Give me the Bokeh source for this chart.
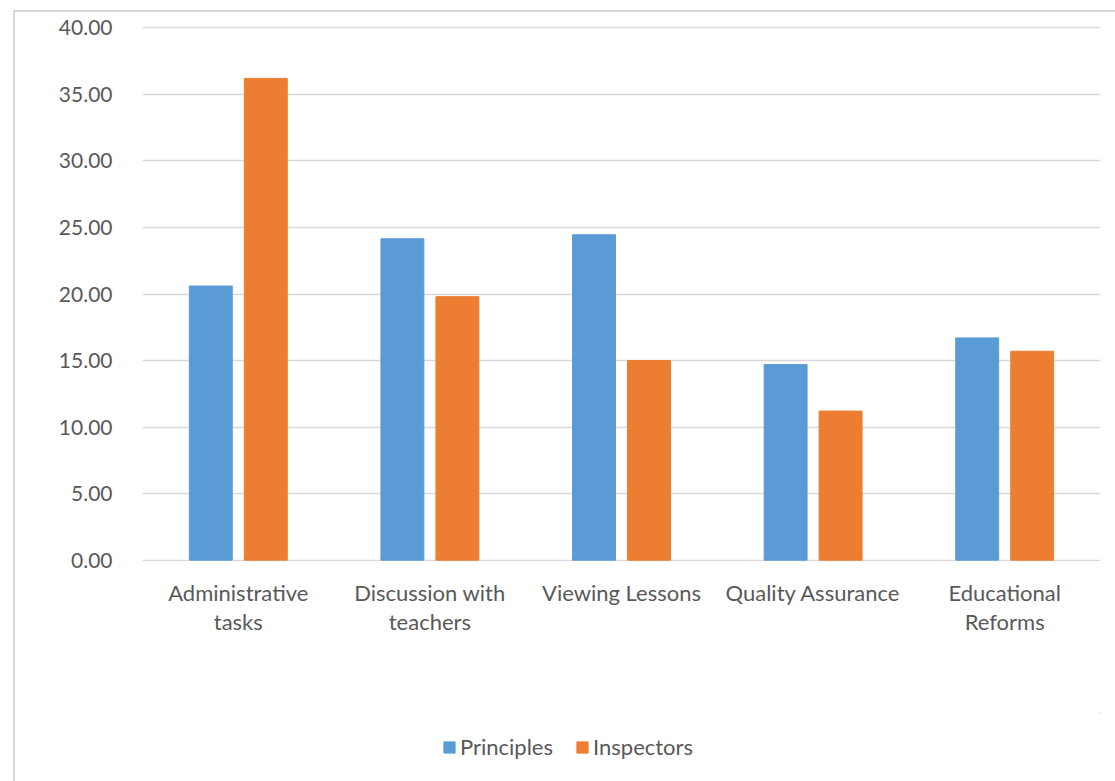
from bokeh.plotting import figure
from bokeh.models import (ColumnDataSource, FactorRange, NumeralTickFormatter, Legend, LegendItem,
                          FixedTicker)
from bokeh.layouts import column
from bokeh.transform import dodge
from bokeh.embed import file_html
from bokeh.resources import INLINE

categories = ["Administrative\ntasks", "Discussion with\nteachers", "Viewing Lessons",
              "Quality Assurance", "Educational\nReforms"]
principles = [20.6, 24.15, 24.45, 14.7, 16.7]
inspectors = [36.2, 19.8, 15.0, 11.2, 15.7]
series_names = ["Principles", "Inspectors"]
y_ticks = [0, 5, 10, 15, 20, 25, 30, 35, 40]

FONT = "Lato"
TXT = "#595959"
BLUE = "#5b9bd5"
ORANGE = "#ed7d31"

src = ColumnDataSource(dict(cat=categories, p=principles, i=inspectors))

p = figure(width=1100, height=700, x_range=FactorRange(*categories), y_range=(-0.1, 40.1),
           output_backend="svg", toolbar_location=None,
           min_border_left=127, min_border_right=15, min_border_top=14, min_border_bottom=151)
p.outline_line_color = None
p.background_fill_color = "white"
p.border_fill_color = "white"

r1 = p.vbar(x=dodge("cat", -0.1435, range=p.x_range), top="p", width=0.224, source=src,
            fill_color=BLUE, line_color=BLUE)
r2 = p.vbar(x=dodge("cat", 0.1435, range=p.x_range), top="i", width=0.224, source=src,
            fill_color=ORANGE, line_color=ORANGE)

p.xgrid.grid_line_color = None
p.ygrid.grid_line_color = "#d9d9d9"
p.ygrid.grid_line_width = 1.5
p.ygrid.level = "underlay"
p.yaxis.ticker = FixedTicker(ticks=y_ticks)
p.yaxis.formatter = NumeralTickFormatter(format="0.00")

for ax in (p.xaxis, p.yaxis):
    ax.axis_line_color = None
    ax.major_tick_line_color = None
    ax.minor_tick_line_color = None
    ax.major_label_text_font = FONT
    ax.major_label_text_color = TXT
p.yaxis.major_label_text_font_size = "21px"
p.xaxis.major_label_text_font_size = "22px"
p.yaxis.major_label_standoff = 24
p.xaxis.major_label_standoff = 11
p.xaxis.major_label_text_line_height = 1.1

# legend strip below the chart (swatch renderers sit outside its visible range)
lg = figure(width=1100, height=69, output_backend="svg", toolbar_location=None,
            min_border=0, x_range=(0, 1), y_range=(0, 1),
            x_axis_location=None, y_axis_location=None)
lg.grid.visible = False
lg.outline_line_color = None
lg.border_fill_color = "white"
lg.background_fill_color = "white"
e1 = lg.vbar(x=[5], top=[5], bottom=[4], width=0.1, fill_color=BLUE, line_color=BLUE)
e2 = lg.vbar(x=[5], top=[5], bottom=[4], width=0.1, fill_color=ORANGE, line_color=ORANGE)
legend = Legend(items=[LegendItem(label=series_names[0], renderers=[e1]),
                       LegendItem(label=series_names[1], renderers=[e2])],
                orientation="horizontal", location=(300, 21), margin=0, padding=5,
                label_text_font=FONT, label_text_font_size="22px", label_text_color=TXT,
                glyph_width=14, glyph_height=14, spacing=22, label_standoff=4,
                border_line_color=None, background_fill_alpha=0)
lg.add_layout(legend, "center")

layout = column(p, lg, margin=(10, 0, 0, 13), spacing=0,
                styles={"border-left": "2px solid #d9d9d9", "border-top": "2px solid #d9d9d9"})

open("out.html", "w").write(file_html(layout, INLINE))
